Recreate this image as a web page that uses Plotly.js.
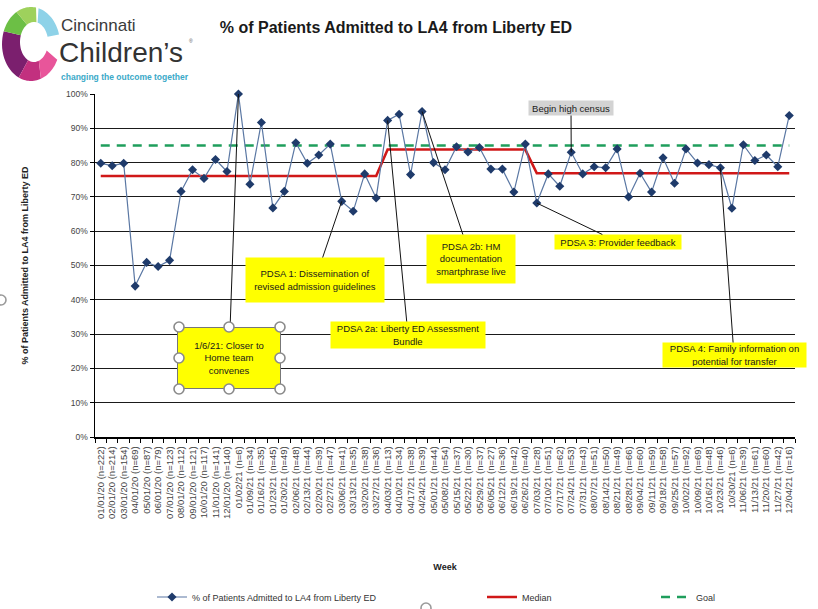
<!DOCTYPE html>
<html>
<head>
<meta charset="utf-8">
<script src="https://cdn.plot.ly/plotly-3.0.1.min.js"></script>
<style>html,body{margin:0;padding:0;background:#fff;overflow:hidden;}#chart{width:818px;height:609px;}</style>
</head>
<body>
<div id="chart"></div>
<script>
// ---------- DATA ----------
const weekLabels = [
  "01/01/20 (n=222)","02/01/20 (n=214)","03/01/20 (n=154)","04/01/20 (n=69)","05/01/20 (n=87)",
  "06/01/20 (n=79)","07/01/20 (n=123)","08/01/20 (n=112)","09/01/20 (n=121)","10/01/20 (n=117)",
  "11/01/20 (n=141)","12/01/20 (n=140)","01/02/21 (n=6)","01/09/21 (n=34)","01/16/21 (n=35)",
  "01/23/21 (n=45)","01/30/21 (n=49)","02/06/21 (n=48)","02/13/21 (n=44)","02/20/21 (n=39)",
  "02/27/21 (n=47)","03/06/21 (n=41)","03/13/21 (n=35)","03/20/21 (n=38)","03/27/21 (n=36)",
  "04/03/21 (n=13)","04/10/21 (n=34)","04/17/21 (n=38)","04/24/21 (n=39)","05/01/21 (n=44)",
  "05/08/21 (n=54)","05/15/21 (n=37)","05/22/21 (n=30)","05/29/21 (n=37)","06/05/21 (n=27)",
  "06/12/21 (n=36)","06/19/21 (n=42)","06/26/21 (n=40)","07/03/21 (n=28)","07/10/21 (n=51)",
  "07/17/21 (n=62)","07/24/21 (n=53)","07/31/21 (n=43)","08/07/21 (n=51)","08/14/21 (n=50)",
  "08/21/21 (n=49)","08/28/21 (n=66)","09/04/21 (n=60)","09/11/21 (n=59)","09/18/21 (n=58)",
  "09/25/21 (n=57)","10/02/21 (n=92)","10/09/21 (n=69)","10/16/21 (n=48)","10/23/21 (n=46)",
  "10/30/21 (n=6)","11/06/21 (n=39)","11/13/21 (n=61)","11/20/21 (n=60)","11/27/21 (n=42)",
  "12/04/21 (n=16)"
];
const pctAdmitted = [
  0.798,0.791,0.798,0.440,0.509,0.497,0.515,0.716,0.779,0.754,
  0.809,0.774,1.000,0.737,0.917,0.668,0.716,0.858,0.798,0.822,
  0.854,0.687,0.658,0.767,0.697,0.923,0.941,0.765,0.949,0.800,
  0.779,0.846,0.831,0.844,0.781,0.781,0.714,0.854,0.682,0.767,
  0.731,0.830,0.767,0.788,0.785,0.840,0.700,0.769,0.714,0.814,
  0.740,0.840,0.799,0.794,0.785,0.667,0.852,0.806,0.822,0.788,
  0.9375
];
// median phases: value and number of points in each phase
const medianValues = [0.761, 0.838, 0.769];
const medianCounts = [25, 13, 23];
const goalValue = 0.85;

// ---------- derived series ----------
const medianSeries = [];
medianValues.forEach((v, k) => { for (let j = 0; j < medianCounts[k]; j++) medianSeries.push(v); });
const goalSeries = weekLabels.map(() => goalValue);

// ---------- geometry helpers (pixel -> paper) ----------
const L = 95, R = 23, T = 94, Bm = 172, WIDTH = 818, HEIGHT = 609;
const PW = WIDTH - L - R, PH = HEIGHT - T - Bm, BOT = HEIGHT - Bm;
const px2x = p => (p - L) / PW;
const py2y = p => (BOT - p) / PH;
const ptX = i => L + (i + 0.5) * PW / weekLabels.length;
const ptY = v => BOT - v * PH;

const FONT = "Arial, 'Liberation Sans', sans-serif";

// ---------- callouts ----------
function callout(idx, text, cx, cy, w, h, bg) {
  return {
    x: weekLabels[idx], y: pctAdmitted[idx], xref: 'x', yref: 'y',
    text: text, showarrow: true, arrowhead: 0, arrowwidth: 1, arrowcolor: '#111',
    ax: cx - ptX(idx), ay: cy - ptY(pctAdmitted[idx]), axref: 'pixel', ayref: 'pixel',
    bgcolor: bg || '#ffff00', width: w, height: h, borderpad: 1,
    font: {family: FONT, size: 9.5, color: '#1a1a1a'}, align: 'center', valign: 'middle'
  };
}
const annotations = [
  callout(12, '1/6/21: Closer to<br>Home team<br>convenes', 229, 358, 100, 58),
  callout(21, 'PDSA 1: Dissemination of<br>revised admission guidelines', 315, 280, 136, 42),
  callout(25, 'PDSA 2a: Liberty ED Assessment<br>Bundle', 408, 335, 152, 24),
  callout(28, 'PDSA 2b: HM<br>documentation<br>smartphrase live', 471, 259, 86, 46),
  callout(38, 'PDSA 3: Provider feedback', 618, 242, 124, 12),
  callout(41, 'Begin high census', 571, 108, 82, 12, '#d3d3d3'),
  callout(54, 'PDSA 4: Family information on<br>potential for transfer', 734, 355, 141, 22)
];
annotations[0].bordercolor = '#777'; annotations[0].borderwidth = 1;

// logo text
annotations.push(
  {xref:'paper', yref:'paper', x: px2x(60), y: py2y(25), xanchor:'left', yanchor:'middle', showarrow:false,
   text:'Cincinnati', font:{family:FONT, size:17, color:'#3a3a3a'}, borderpad:0},
  {xref:'paper', yref:'paper', x: px2x(58), y: py2y(53), xanchor:'left', yanchor:'middle', showarrow:false,
   text:'Children’s', font:{family:FONT, size:28, color:'#333'}, borderpad:0},
  {xref:'paper', yref:'paper', x: px2x(188), y: py2y(41), xanchor:'left', yanchor:'middle', showarrow:false,
   text:'®', font:{family:FONT, size:5, color:'#555'}, borderpad:0},
  {xref:'paper', yref:'paper', x: px2x(60), y: py2y(77), xanchor:'left', yanchor:'middle', showarrow:false,
   text:'<b>changing the outcome together</b>', font:{family:FONT, size:8.5, color:'#3aa9c8'}, borderpad:0}
);

// ---------- shapes ----------
const shapes = [];
function ringSeg(cx, cy, rxo, ryo, rxi, ryi, a0, a1, color) {
  const pts = [];
  const n = 16;
  for (let k = 0; k <= n; k++) { const a = (a0 + (a1 - a0) * k / n) * Math.PI / 180; pts.push([cx + rxo * Math.cos(a), cy + ryo * Math.sin(a)]); }
  for (let k = n; k >= 0; k--) { const a = (a0 + (a1 - a0) * k / n) * Math.PI / 180; pts.push([cx + 3 + rxi * Math.cos(a), cy - 2 + ryi * Math.sin(a)]); }
  const path = 'M ' + pts.map(p => px2x(p[0]).toFixed(5) + ',' + py2y(p[1]).toFixed(5)).join(' L ') + ' Z';
  shapes.push({type:'path', xref:'paper', yref:'paper', path: path, fillcolor: color, line:{width:0}, layer:'above'});
}
ringSeg(31, 44, 29, 37, 14, 20, 115, 200, '#7b1f6e');
ringSeg(31, 44, 29, 37, 14, 20, 70, 115, '#c2307f');
ringSeg(31, 44, 29, 37, 14, 20, 25, 70, '#e8559a');
ringSeg(31, 44, 29, 37, 14, 20, 200, 240, '#6cbf45');
ringSeg(31, 44, 29, 37, 14, 20, 240, 280, '#9ed15c');
ringSeg(31, 44, 29, 37, 14, 20, 285, 345, '#8ed2e8');

function circ(cx, cy, r, fill, line) {
  shapes.push({type:'circle', xref:'paper', yref:'paper', x0:px2x(cx-r), x1:px2x(cx+r), y0:py2y(cy+r), y1:py2y(cy-r),
    fillcolor: fill, line:{color: line, width:1.6}, layer:'above'});
}
// stray handles at the picture edges
circ(1, 300, 5, 'rgba(0,0,0,0)', '#9a9a9a');
circ(426, 608, 5, 'rgba(0,0,0,0)', '#9a9a9a');

// selection handles around the 1/6/21 callout (overlaid after render)
const handles = [[179,327],[229,327],[280,327],[179,358],[280,358],[179,389],[229,389],[280,389]];

// ---------- traces ----------
const traces = [
  {x: weekLabels, y: medianSeries, type:'scatter', mode:'lines', name:'Median',
   line:{color:'#d01818', width:2.6}, legend:'legend2', hoverinfo:'skip'},
  {x: weekLabels, y: goalSeries, type:'scatter', mode:'lines', name:'Goal',
   line:{color:'#1f9e5c', width:2.4, dash:'9px,7px'}, legend:'legend3', hoverinfo:'skip'},
  {x: weekLabels, y: pctAdmitted, type:'scatter', mode:'lines+markers', name:'% of Patients Admitted to LA4 from Liberty ED',
   line:{color:'#5a77a3', width:1.2}, marker:{symbol:'diamond', size:7, color:'#1f3b6b'}, legend:'legend', cliponaxis:false}
];

const legendBase = {orientation:'h', yanchor:'middle', xanchor:'left', yref:'container', xref:'container',
  y: 1 - 597/HEIGHT, bgcolor:'rgba(0,0,0,0)',
  font:{family:FONT, size:9, color:'#333'}, itemwidth:30, tracegroupgap:0};

const layout = {
  width: WIDTH, height: HEIGHT,
  margin: {l: L, r: R, t: T, b: Bm, pad: 0, autoexpand: false},
  paper_bgcolor: '#fff', plot_bgcolor: '#fff',
  font: {family: FONT, color: '#333'},
  title: {text: '<b>% of Patients Admitted to LA4 from Liberty ED</b>', x: 396/818, xref:'container', xanchor:'center',
          y: 1 - 27/609, yref:'container', yanchor:'middle', font:{family:FONT, size:16, color:'#1a1a1a'}},
  xaxis: {type:'category', range:[-0.5, weekLabels.length - 0.5], autorange:false, showgrid:false, zeroline:false,
          showline:true, linecolor:'#000', linewidth:1.5,
          ticks:'outside', ticklen:4, tickcolor:'#000', tickson:'boundaries', tickangle:-90, ticklabelstandoff:4,
          tickfont:{family:FONT, size:9.5, color:'#444'}, automargin:false, fixedrange:true,
          title:{text:'<b>Week</b>', font:{family:FONT, size:9, color:'#222'}, standoff: 46}},
  yaxis: {range:[0,1], autorange:false, dtick:0.1, tickformat:'.0%', showgrid:true, gridcolor:'#1a1a1a', gridwidth:1,
          zeroline:false, showline:true, linecolor:'#000', linewidth:1.5, ticks:'outside', ticklen:4, tickcolor:'#000',
          tickfont:{family:FONT, size:8.5, color:'#444'}, automargin:false, fixedrange:true,
          title:{text:'<b>% of Patients Admitted to LA4 from Liberty ED</b>', font:{family:FONT, size:9, color:'#222'}, standoff: 36}},
  showlegend: true,
  legend: Object.assign({}, legendBase, {x: 152/WIDTH}),
  legend2: Object.assign({}, legendBase, {x: 482/WIDTH}),
  legend3: Object.assign({}, legendBase, {x: 656/WIDTH}),
  annotations: annotations,
  shapes: shapes
};

Plotly.newPlot('chart', traces, layout, {displayModeBar:false, staticPlot:true}).then(gd => {
  const svgs = gd.querySelectorAll('svg.main-svg');
  const top = svgs[svgs.length - 1];
  const NS = 'http://www.w3.org/2000/svg';
  const g = document.createElementNS(NS, 'g');
  handles.forEach(p => {
    const c = document.createElementNS(NS, 'circle');
    c.setAttribute('cx', p[0]); c.setAttribute('cy', p[1]); c.setAttribute('r', 5);
    c.setAttribute('fill', '#fff'); c.setAttribute('stroke', '#8a8a8a'); c.setAttribute('stroke-width', 1.6);
    g.appendChild(c);
  });
  top.appendChild(g);
});
</script>
</body>
</html>
